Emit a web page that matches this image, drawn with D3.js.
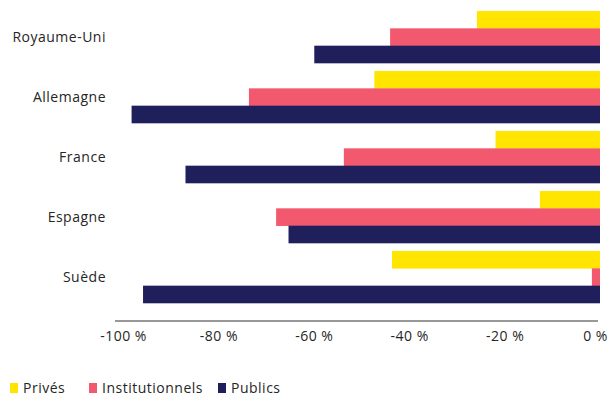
<!DOCTYPE html>
<html>
<head>
<meta charset="utf-8">
<script src="https://cdn.jsdelivr.net/npm/d3@7"></script>
<style>
  html, body { margin: 0; padding: 0; background: #fff; }
  svg { display: block; }
  text { font-family: "Open Sans", Lato, sans-serif; fill: #262626; }
</style>
</head>
<body>
<svg id="chart" width="611" height="398"></svg>
<script>
const countries = ["Royaume-Uni", "Allemagne", "France", "Espagne", "Suède"];
const seriesNames = ["Privés", "Institutionnels", "Publics"];
const prives = [-25.8, -47.3, -21.9, -12.6, -43.6];
const institutionnels = [-44.0, -73.6, -53.7, -67.9, -1.7];
const publics = [-59.9, -98.2, -86.9, -65.3, -95.8];
const tickValues = [-100, -80, -60, -40, -20, 0];
const tickLabels = ["-100 %", "-80 %", "-60 %", "-40 %", "-20 %", "0 %"];
const colors = ["#FFE500", "#F2586E", "#1F1F5C"];

const seriesValues = [prives, institutionnels, publics];
const svg = d3.select("#chart");

const x = d3.scaleLinear().domain([-100, 0]).range([123, 600]);
const y = d3.scaleBand().domain(countries).range([11, 303]).paddingInner(0.133).paddingOuter(0);
const ySub = d3.scaleBand().domain(seriesNames).range([0, y.bandwidth()]).padding(0);

const groups = svg.append("g").selectAll("g")
  .data(countries)
  .join("g")
  .attr("transform", d => `translate(0,${y(d)})`);

groups.selectAll("rect")
  .data((c, i) => seriesNames.map((s, j) => ({ s, v: seriesValues[j][i], j })))
  .join("rect")
  .attr("x", d => x(d.v))
  .attr("y", d => ySub(d.s))
  .attr("width", d => x(0) - x(d.v))
  .attr("height", ySub.bandwidth() + 0.3)
  .attr("fill", d => colors[d.j]);

const fontSize = 14;
const spacing = 0.5;

// Category labels
svg.append("g").selectAll("text")
  .data(countries)
  .join("text")
  .attr("x", 106)
  .attr("y", d => y(d) + y.bandwidth() / 2)
  .attr("dy", "0.35em")
  .attr("text-anchor", "end")
  .attr("font-size", fontSize)
  .attr("font-weight", 500)
  .attr("letter-spacing", spacing)
  .text(d => d);

// X axis
const axis = d3.axisBottom(x)
  .tickValues(tickValues)
  .tickFormat((d, i) => tickLabels[i])
  .tickSize(0)
  .tickPadding(10);

const gx = svg.append("g")
  .attr("transform", "translate(0,321)")
  .call(axis);
gx.select(".domain").remove();
gx.append("line")
  .attr("x1", x(-100) - 8).attr("x2", x(0) - 2)
  .attr("y1", 0).attr("y2", 0)
  .attr("stroke", "#333").attr("stroke-width", 1);
gx.selectAll(".tick text")
  .attr("font-family", "'Open Sans', Lato, sans-serif")
  .attr("font-size", fontSize)
  .attr("font-weight", 500)
  .attr("letter-spacing", spacing)
  .attr("fill", "#262626")
  .attr("dx", d => d === 0 ? -5 : 0);

// Legend
const legendX = [10, 89, 218];
const legend = svg.append("g").selectAll("g")
  .data(seriesNames)
  .join("g")
  .attr("transform", (d, i) => `translate(${legendX[i]},383)`);
legend.append("rect")
  .attr("width", 8).attr("height", 10)
  .attr("fill", (d, i) => colors[i]);
legend.append("text")
  .attr("x", 13).attr("y", 5)
  .attr("dy", "0.35em")
  .attr("font-size", fontSize)
  .attr("font-weight", 500)
  .attr("letter-spacing", spacing)
  .text(d => d);
</script>
</body>
</html>
